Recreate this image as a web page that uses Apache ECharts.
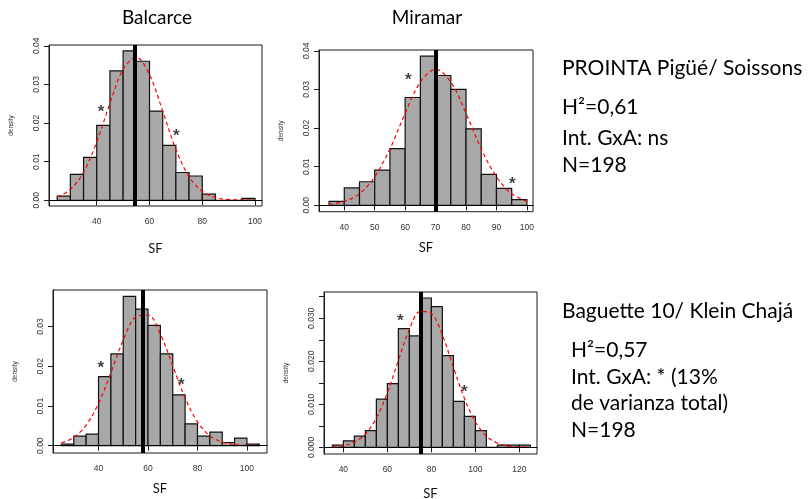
<!DOCTYPE html>
<html><head><meta charset="utf-8">
<script src="https://cdn.jsdelivr.net/npm/echarts@6/dist/echarts.min.js"></script>
<style>html,body{margin:0;padding:0;background:#fff}#c{width:810px;height:499px}</style>
</head><body><div id="c"></div>
<script>
const binWidth = 5;

// Panel 1: Balcarce, PROINTA Pigüé / Soissons
const p1BinStart = [25,30,35,40,45,50,55,60,65,70,75,80,85,90,95];
const p1Density  = [0.0011,0.0067,0.0111,0.0194,0.0335,0.0387,0.0360,0.0231,0.0142,0.0072,0.0063,0.0016,0,0,0.0005];
const p1CurveX   = [25,30,35,40,45,50,55,60,65,70,75,80,85,90,95,100];
const p1CurveY   = [0.0009,0.0028,0.0073,0.0151,0.0251,0.0339,0.0370,0.0325,0.0231,0.0132,0.0061,0.0023,0.0007,0.0002,0.0001,0.0000];
const p1Mean = 54.4;
const p1Stars = [[41.6,0.0238],[70.2,0.0175]];
const p1XTicks = [40,60,80,100];
const p1YTicks = [0,0.01,0.02,0.03,0.04];
const p1YLabels = [0,0.01,0.02,0.03,0.04];

// Panel 2: Miramar, PROINTA Pigüé / Soissons
const p2BinStart = [35,40,45,50,55,60,65,70,75,80,85,90,95];
const p2Density  = [0.0010,0.0045,0.0061,0.0091,0.0147,0.0279,0.0386,0.0336,0.0300,0.0198,0.0080,0.0044,0.0015];
const p2CurveX   = [35,40,45,50,55,60,65,70,75,80,85,90,95,100];
const p2CurveY   = [0.0003,0.0010,0.0030,0.0074,0.0146,0.0238,0.0319,0.0352,0.0319,0.0238,0.0146,0.0074,0.0030,0.0010];
const p2Mean = 70.0;
const p2Stars = [[61.0,0.0333],[95.2,0.0066]];
const p2XTicks = [40,50,60,70,80,90,100];
const p2YTicks = [0,0.01,0.02,0.03,0.04];
const p2YLabels = [0,0.01,0.02,0.03,0.04];

// Panel 3: Balcarce, Baguette 10 / Klein Chajá
const p3BinStart = [25,30,35,40,45,50,55,60,65,70,75,80,85,90,95,100];
const p3Density  = [0.0004,0.0024,0.0029,0.0174,0.0231,0.0376,0.0344,0.0303,0.0231,0.0128,0.0055,0.0024,0.0034,0.0008,0.0019,0.0004];
const p3CurveX   = [25,30,35,40,45,50,55,60,65,70,75,80,85,90,95,100,105];
const p3CurveY   = [0.0007,0.0021,0.0052,0.0106,0.0184,0.0266,0.0324,0.0329,0.0281,0.0201,0.0120,0.0060,0.0025,0.0009,0.0003,0.0001,0.0000];
const p3Mean = 58.0;
const p3Stars = [[40.9,0.0206],[73.5,0.0163]];
const p3XTicks = [40,60,80,100];
const p3YTicks = [0,0.01,0.02,0.03];
const p3YLabels = [0,0.01,0.02,0.03];

// Panel 4: Miramar, Baguette 10 / Klein Chajá
const p4BinStart = [35,40,45,50,55,60,65,70,75,80,85,90,95,100,105,110,115,120];
const p4Density  = [0.0005,0.0015,0.0026,0.0039,0.0112,0.0148,0.0276,0.0259,0.0347,0.0327,0.0213,0.0107,0.0072,0.0039,0,0.0005,0.0005,0.0005];
const p4CurveX   = [35,40,45,50,55,60,65,70,75,80,85,90,95,100,105,110,115,120,125];
const p4CurveY   = [0.0001,0.0004,0.0012,0.0031,0.0068,0.0127,0.0202,0.0274,0.0316,0.0311,0.0261,0.0186,0.0114,0.0059,0.0026,0.0010,0.0003,0.0001,0.0000];
const p4Mean = 75.0;
const p4Stars = [[65.9,0.0303],[95.0,0.0137]];
const p4XTicks = [40,60,80,100,120];
const p4YTicks = [0,0.005,0.01,0.015,0.02,0.025,0.03,0.035];
const p4YLabels = [0,0.01,0.02,0.03];

const panels = [
  {bins:p1BinStart, dens:p1Density, cx:p1CurveX, cy:p1CurveY, mean:p1Mean, stars:p1Stars, xt:p1XTicks, yt:p1YTicks, yl:p1YLabels, dec:2,
   grid:{left:49, top:45, width:213, height:161}, xr:[21.9,102.65], yr:[-0.00147,0.0402], nameGap:36},
  {bins:p2BinStart, dens:p2Density, cx:p2CurveX, cy:p2CurveY, mean:p2Mean, stars:p2Stars, xt:p2XTicks, yt:p2YTicks, yl:p2YLabels, dec:2,
   grid:{left:319, top:50, width:214, height:161.7}, xr:[31.7,102], yr:[-0.00165,0.0402], nameGap:30},
  {bins:p3BinStart, dens:p3Density, cx:p3CurveX, cy:p3CurveY, mean:p3Mean, stars:p3Stars, xt:p3XTicks, yt:p3YTicks, yl:p3YLabels, dec:2,
   grid:{left:53, top:290, width:214, height:163}, xr:[21.6,108.1], yr:[-0.00184,0.0392], nameGap:29},
  {bins:p4BinStart, dens:p4Density, cx:p4CurveX, cy:p4CurveY, mean:p4Mean, stars:p4Stars, xt:p4XTicks, yt:p4YTicks, yl:p4YLabels, dec:3,
   grid:{left:324, top:292, width:213, height:162}, xr:[31.2,128], yr:[-0.00155,0.0361], nameGap:33}
];

const grids = [], xAxes = [], yAxes = [], series = [];
panels.forEach((p, i) => {
  grids.push(Object.assign({show:true, borderColor:'#1a1a1a', borderWidth:1, backgroundColor:'transparent', containLabel:false, outerBoundsMode:'none'}, p.grid));
  xAxes.push({
    gridIndex:i, type:'value', min:p.xr[0], max:p.xr[1],
    axisLine:{show:true, lineStyle:{color:'#1a1a1a', width:1}},
    axisTick:{show:true, customValues:p.xt, length:5, lineStyle:{color:'#1a1a1a'}},
    axisLabel:{customValues:p.xt, fontSize:8.5, color:'#333', margin:11, fontFamily:'Liberation Sans'},
    splitLine:{show:false},
    name:'SF', nameLocation:'middle', nameGap:p.nameGap,
    nameTextStyle:{fontSize:13, fontFamily:'Lato', color:'#111'}
  });
  yAxes.push({
    gridIndex:i, type:'value', min:p.yr[0], max:p.yr[1],
    axisLine:{show:true, lineStyle:{color:'#1a1a1a', width:1}},
    axisTick:{show:true, customValues:p.yt, length:5, lineStyle:{color:'#1a1a1a'}},
    axisLabel:{customValues:p.yl, rotate:90, fontSize:8.5, color:'#333', margin:8, fontFamily:'Liberation Sans',
      formatter:(v)=>Number(v).toFixed(p.dec)},
    splitLine:{show:false},
    name:'density', nameLocation:'middle', nameGap:34, nameRotate:90,
    nameTextStyle:{fontSize:6.5, fontFamily:'Liberation Sans', color:'#333'}
  });
  series.push({
    type:'custom', xAxisIndex:i, yAxisIndex:i, z:2,
    data:p.bins.map((s, k) => [s, s + binWidth, p.dens[k]]),
    encode:{x:[0,1], y:2},
    renderItem:(params, api) => {
      const a = api.coord([api.value(0), api.value(2)]);
      const b = api.coord([api.value(1), 0]);
      return {type:'rect', shape:{x:a[0], y:a[1], width:b[0]-a[0], height:b[1]-a[1]},
              style:{fill:'#a8a8a8', stroke:'#111', lineWidth:1.2}};
    },
    silent:true
  });
  series.push({
    type:'line', xAxisIndex:i, yAxisIndex:i, z:4,
    data:p.cx.map((x, k) => [x, p.cy[k]]),
    showSymbol:false, smooth:0.35, silent:true,
    lineStyle:{color:'#ff0000', width:1.2, type:[4,3]},
    markLine:{
      silent:true, symbol:['none','none'], label:{show:false},
      data:[
        {yAxis:0, lineStyle:{color:'#000', width:1, type:'solid'}},
        {xAxis:p.mean, lineStyle:{color:'#000', width:4, type:'solid'}}
      ]
    }
  });
  series.push({
    type:'scatter', xAxisIndex:i, yAxisIndex:i, z:6, silent:true,
    data:p.stars, symbol:'circle', symbolSize:0.1, itemStyle:{color:'transparent'},
    label:{show:true, formatter:'*', position:'inside', fontSize:17, fontWeight:'bold', fontFamily:'Liberation Sans', color:'#111', offset:[0,4]}
  });
});

const txt = (t, x, y, size, align) => ({type:'text', x:x, y:y, silent:true,
  style:{text:t, fill:'#000', font: size + 'px Lato', textAlign:align || 'left', textVerticalAlign:'middle'}});

const graphics = [
  txt('Balcarce', 157, 18, 19, 'center'),
  txt('Miramar', 427, 18, 19, 'center'),
  txt('PROINTA Pigüé/ Soissons', 562, 68, 21),
  txt('H²=0,61', 562, 107, 21),
  txt('Int. GxA: ns', 562, 138, 21),
  txt('N=198', 562, 165, 21),
  txt('Baguette 10/ Klein Chajá', 562, 311, 21),
  txt('H²=0,57', 571, 350, 21),
  txt('Int. GxA: * (13%', 571, 377, 21),
  txt('de varianza total)', 571, 403, 21),
  txt('N=198', 571, 430, 21)
];

const chart = echarts.init(document.getElementById('c'), null, {renderer:'canvas'});
chart.setOption({
  animation:false,
  backgroundColor:'#fff',
  grid:grids, xAxis:xAxes, yAxis:yAxes, series:series,
  graphic:graphics
});
</script>
</body></html>
